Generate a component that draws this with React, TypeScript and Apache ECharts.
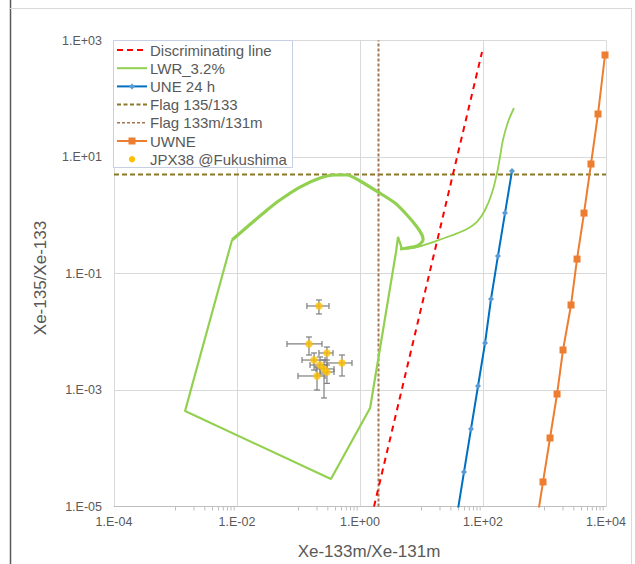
import React, { useEffect, useRef } from 'react';
import * as echarts from 'echarts';

const xAxisTitle = 'Xe-133m/Xe-131m';
const yAxisTitle = 'Xe-135/Xe-133';
const xMin = 1e-4;
const xMax = 1e4;
const yMin = 1e-5;
const yMax = 1e3;

// Discriminating line (two end points)
const discrimX = [1.69, 96.4];
const discrimY = [1e-5, 635];

// LWR_3.2% trajectory
const lwrX = [319, 255, 211, 189, 169, 140, 108, 79.8, 55, 29.1, 15.4, 8.45, 4.82, 4.15, 3.85, 1.46, 0.337, 0.00143,
  0.0083, 0.01456, 0.0308, 0.05, 0.1057, 0.224, 0.392, 0.615, 1.0, 1.96, 3.71, 5.81, 8.45, 10.2, 10.6, 8.45, 5.81, 4.47];
const lwrY = [69.4, 39.9, 19.6, 10, 5.31, 2.41, 1.23, 0.766, 0.581, 0.44, 0.347, 0.285, 0.263, 0.424, 0.234, 0.000491, 2.96e-5, 0.000436,
  0.376, 0.628, 1.23, 1.83, 3.05, 4.36, 4.91, 4.91, 3.87, 2.51, 1.62, 1.01, 0.628, 0.458, 0.376, 0.296, 0.274, 0.263];
const lwrTailEnd = 12; // last index of the thin smooth tail
const lwrThickFrom = 18; // first index of the thick upper arc

// UNE 24 h
const uneX = [296, 228, 175, 135, 108, 83, 63.8, 49.1, 37.8];
const uneY = [5.75, 1.09, 0.2, 0.0365, 0.00641, 0.00117, 0.000214, 3.91e-5, 7.1e-6];

// UWNE
const uwneX = [9640, 7410, 5700, 4390, 3380, 2700, 2000, 1600, 1230, 946, 728];
const uwneY = [564, 54.7, 7.58, 1.09, 0.177, 0.0288, 0.00486, 0.000853, 0.00015, 2.64e-5, 4.6e-6];

// Flags
const flag135 = 5;
const flag133m = 2;

// JPX38 @Fukushima measurements with uncertainties
const jpxX = [0.215, 0.148, 0.29, 0.179, 0.224, 0.51, 0.26, 0.2, 0.29];
const jpxY = [0.0277, 0.00617, 0.00432, 0.00327, 0.00269, 0.00291, 0.0023, 0.00174, 0.00204];
const jpxXLo = [0.137, 0.065, 0.215, 0.114, 0.154, 0.29, 0.193, 0.098, 0.224];
const jpxXHi = [0.313, 0.241, 0.364, 0.27, 0.29, 0.741, 0.378, 0.27, 0.378];
const jpxYLo = [0.0202, 0.00399, 0.00327, 0.0022, 0.00188, 0.00174, 0.00073, 0.001, 0.0013];
const jpxYHi = [0.0351, 0.00813, 0.00547, 0.00432, 0.00369, 0.00399, 0.00327, 0.00248, 0.00269];

// minor ticks on the x axis
const minorMantissas = [1, 2, 3, 4, 5, 6, 7, 8, 9];
const minorDecades = [1e-3, 1e-1, 1e1, 1e3];

const legendNames = ['Discriminating line', 'LWR_3.2%', 'UNE 24 h', 'Flag 135/133', 'Flag 133m/131m', 'UWNE', 'JPX38 @Fukushima'];

const FONT = '"Liberation Sans", Arial, sans-serif';
const TXT = '#595959';
const GREEN = '#92D050';

const zip = (a: number[], b: number[]) => a.map((v, i) => [v, b[i]]);

const expLabel = (v: number) => {
  const e = Math.round(Math.log10(v));
  return '1.E' + (e < 0 ? '-' : '+') + String(Math.abs(e)).padStart(2, '0');
};

function buildLegend() {
  const children: any[] = [];
  children.push({
    type: 'rect', shape: { x: 113.5, y: 40.5, width: 179, height: 127 },
    style: { fill: '#fff', stroke: '#C5D0E6', lineWidth: 1 }, z: 100,
  });
  const x1 = 117, x2 = 147, cx = 132;
  legendNames.forEach((name, i) => {
    const y = 50 + i * 18.2;
    const line = (stroke: string, lineDash: any, lw = 2) => children.push({
      type: 'line', shape: { x1, y1: y, x2, y2: y }, style: { stroke, lineWidth: lw, lineDash }, z: 101,
    });
    if (i === 0) line('#FF0000', [6, 4]);
    if (i === 1) line(GREEN, null);
    if (i === 2) {
      line('#0070C0', null);
      children.push({ type: 'polygon', shape: { points: [[cx, y - 3], [cx + 3, y], [cx, y + 3], [cx - 3, y]] }, style: { fill: '#5B9BD5' }, z: 102 });
    }
    if (i === 3) line('#8C7828', [4, 2.5]);
    if (i === 4) line('#A47551', [3, 2], 1.5);
    if (i === 5) {
      line('#ED7D31', null);
      children.push({ type: 'rect', shape: { x: cx - 3.5, y: y - 3.5, width: 7, height: 7 }, style: { fill: '#ED7D31' }, z: 102 });
    }
    if (i === 6) children.push({ type: 'circle', shape: { cx, cy: y, r: 3.2 }, style: { fill: '#FFC000' }, z: 102 });
    children.push({
      type: 'text', x: 150, y, z: 102,
      style: { text: name, fill: TXT, fontSize: 15, fontFamily: FONT, verticalAlign: 'middle', align: 'left' },
    });
  });
  return children;
}

export default function App() {
  const ref = useRef<HTMLDivElement>(null);
  useEffect(() => {
    const chart = echarts.init(ref.current!, null, { renderer: 'svg' });
    const minorTicks: number[][] = [];
    minorDecades.forEach((d) => minorMantissas.forEach((m) => minorTicks.push([m * d, yMin])));
    const jpxData = jpxX.map((x, i) => [x, jpxY[i], jpxXLo[i], jpxXHi[i], jpxYLo[i], jpxYHi[i]]);
    const lwr = zip(lwrX, lwrY);

    chart.setOption({
      animation: false,
      backgroundColor: '#fff',
      textStyle: { fontFamily: FONT },
      grid: { left: 114, top: 40.5, right: 29, bottom: 57.5, containLabel: false, outerBoundsMode: 'none' } as any,
      xAxis: {
        type: 'log', logBase: 10, min: xMin, max: xMax, interval: 2,
        name: xAxisTitle, nameLocation: 'middle', nameGap: 36,
        nameTextStyle: { color: TXT, fontSize: 17, fontFamily: FONT, padding: [0, 0, 0, 18] },
        axisLine: { show: true, lineStyle: { color: '#BFBFBF', width: 1 } },
        axisTick: { show: false },
        axisLabel: { color: TXT, fontSize: 12.5, fontFamily: FONT, margin: 9, formatter: expLabel },
        splitLine: { show: true, lineStyle: { color: '#D9D9D9', width: 1 } },
        minorTick: { show: false },
      },
      yAxis: {
        type: 'log', logBase: 10, min: yMin, max: yMax, interval: 2,
        name: yAxisTitle, nameLocation: 'middle', nameGap: 65,
        nameTextStyle: { color: TXT, fontSize: 17, fontFamily: FONT, padding: [0, 9, 0, 0] },
        axisLine: { show: false },
        axisTick: { show: false },
        axisLabel: { color: TXT, fontSize: 12.5, fontFamily: FONT, margin: 12, formatter: expLabel },
        splitLine: { show: true, lineStyle: { color: '#D9D9D9', width: 1 } },
      },
      graphic: [
        { type: 'line', shape: { x1: 10.5, y1: 0, x2: 10.5, y2: 564 }, style: { stroke: '#595959', lineWidth: 1.5 }, z: 100 },
        { type: 'line', shape: { x1: 10, y1: 8.5, x2: 632, y2: 8.5 }, style: { stroke: '#D9D9D9', lineWidth: 1 }, z: 100 },
        { type: 'line', shape: { x1: 631.5, y1: 8, x2: 631.5, y2: 564 }, style: { stroke: '#D9D9D9', lineWidth: 1 }, z: 100 },
        ...buildLegend(),
      ],
      series: [
        {
          type: 'custom', name: 'minorTicks', silent: true, data: minorTicks, encode: { x: 0, y: 1 },
          renderItem: (_p: any, api: any) => {
            const p = api.coord([api.value(0), api.value(1)]);
            return { type: 'line', shape: { x1: p[0], y1: p[1], x2: p[0], y2: p[1] + 4 }, style: { stroke: '#BFBFBF', lineWidth: 1 } };
          },
        },
        {
          type: 'line', name: 'Flag 135/133', data: [[xMin, flag135], [xMax, flag135]], symbol: 'none', z: 3,
          lineStyle: { color: '#8C7828', width: 2, type: [5, 3] }, itemStyle: { color: '#8C7828' },
        },
        {
          type: 'line', name: 'Flag 133m/131m', data: [[flag133m, yMin], [flag133m, yMax]], symbol: 'none', z: 3,
          lineStyle: { color: '#A47551', width: 2, type: [3, 2] }, itemStyle: { color: '#A47551' },
        },
        {
          type: 'line', name: 'Discriminating line', data: zip(discrimX, discrimY), symbol: 'none', z: 4,
          lineStyle: { color: '#FF0000', width: 2, type: [6, 5] }, itemStyle: { color: '#FF0000' },
        },
        {
          type: 'line', name: 'LWR_3.2%', data: lwr.slice(0, lwrTailEnd + 1), symbol: 'none', z: 4, smooth: 0.4,
          lineStyle: { color: GREEN, width: 1.8 }, itemStyle: { color: GREEN },
        },
        {
          type: 'line', name: 'LWR_3.2% loop', data: lwr.slice(lwrTailEnd, lwrThickFrom + 1), symbol: 'none', z: 4,
          lineStyle: { color: GREEN, width: 2.2 }, itemStyle: { color: GREEN },
        },
        {
          type: 'line', name: 'LWR_3.2% arc', data: lwr.slice(lwrThickFrom), symbol: 'none', z: 4, smooth: 0.25,
          lineStyle: { color: GREEN, width: 3.2 }, itemStyle: { color: GREEN },
        },
        {
          type: 'line', name: 'UNE 24 h', data: zip(uneX, uneY), symbol: 'diamond', symbolSize: 6, z: 5,
          lineStyle: { color: '#0070C0', width: 2 }, itemStyle: { color: '#5B9BD5' },
        },
        {
          type: 'line', name: 'UWNE', data: zip(uwneX, uwneY), symbol: 'rect', symbolSize: 7, z: 5,
          lineStyle: { color: '#ED7D31', width: 2 }, itemStyle: { color: '#ED7D31' },
        },
        {
          type: 'custom', name: 'errors', silent: true, data: jpxData, encode: { x: [0, 2, 3], y: [1, 4, 5] }, z: 6,
          renderItem: (_p: any, api: any) => {
            const x = api.value(0), y = api.value(1);
            const l = api.coord([api.value(2), y]);
            const r = api.coord([api.value(3), y]);
            const b = api.coord([x, api.value(4)]);
            const t = api.coord([x, api.value(5)]);
            const st = { stroke: '#7F7F7F', lineWidth: 1.2 };
            const cap = 3;
            return {
              type: 'group', children: [
                { type: 'line', shape: { x1: l[0], y1: l[1], x2: r[0], y2: r[1] }, style: st },
                { type: 'line', shape: { x1: l[0], y1: l[1] - cap, x2: l[0], y2: l[1] + cap }, style: st },
                { type: 'line', shape: { x1: r[0], y1: r[1] - cap, x2: r[0], y2: r[1] + cap }, style: st },
                { type: 'line', shape: { x1: b[0], y1: b[1], x2: t[0], y2: t[1] }, style: st },
                { type: 'line', shape: { x1: b[0] - cap, y1: b[1], x2: b[0] + cap, y2: b[1] }, style: st },
                { type: 'line', shape: { x1: t[0] - cap, y1: t[1], x2: t[0] + cap, y2: t[1] }, style: st },
              ],
            };
          },
        },
        {
          type: 'scatter', name: 'JPX38 @Fukushima', data: zip(jpxX, jpxY), symbol: 'circle', symbolSize: 7.5, z: 7,
          itemStyle: { color: '#FFC000' },
        },
      ],
    });
    return () => chart.dispose();
  }, []);
  return <div ref={ref} style={{ position: 'fixed', left: 0, top: 0, width: 635, height: 564 }} />;
}
